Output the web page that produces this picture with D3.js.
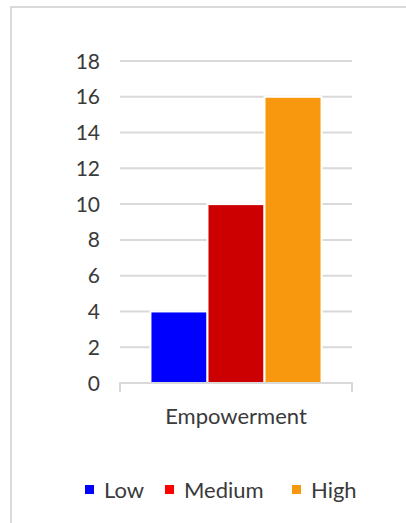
<!DOCTYPE html>
<html>
<head>
<meta charset="utf-8">
<script src="https://cdn.jsdelivr.net/npm/d3@7"></script>
<style>
  html, body { margin: 0; padding: 0; background: #fff; }
  svg { display: block; }
  text { font-family: "Lato", "Open Sans", sans-serif; fill: #3a3a3a; }
</style>
</head>
<body>
<script>
// Single category, three series
const categories = ["Empowerment"];
const seriesNames = ["Low", "Medium", "High"];
const seriesValues = [4, 10, 16];
const seriesColors = ["#0000ff", "#cc0000", "#f7980f"];
const legendSwatchColors = ["#0000ff", "#ff0000", "#f7980f"];
const yTicks = [0, 2, 4, 6, 8, 10, 12, 14, 16, 18];

const W = 406, H = 523;
const svg = d3.select("body").append("svg").attr("width", W).attr("height", H);

// chart frame
svg.append("path")
  .attr("d", `M11,${H} L11,7 L${W},7`)
  .attr("fill", "none")
  .attr("stroke", "#d9d9d9")
  .attr("stroke-width", 2);

const plot = { left: 120, right: 352, top: 61, bottom: 383 };

const y = d3.scaleLinear().domain([0, 18]).range([plot.bottom, plot.top]);
const x0 = d3.scaleBand().domain(categories).range([plot.left, plot.right]).paddingInner(0).paddingOuter(0.178);
const x1 = d3.scaleBand().domain(seriesNames).range([0, x0.bandwidth()]).padding(0.0);

// gridlines
svg.append("g").selectAll("line")
  .data(yTicks.filter(d => d > 0))
  .join("line")
  .attr("x1", plot.left).attr("x2", plot.right)
  .attr("y1", d => y(d)).attr("y2", d => y(d))
  .attr("stroke", "#d9d9d9").attr("stroke-width", 2);

// y tick labels
svg.append("g").selectAll("text")
  .data(yTicks)
  .join("text")
  .attr("x", 100)
  .attr("y", d => y(d))
  .attr("dy", "0.36em")
  .attr("text-anchor", "end")
  .style("font-size", "21px")
  .text(d => d);

// bars
const bars = svg.append("g");
categories.forEach(cat => {
  bars.selectAll(null)
    .data(seriesValues.map((v, i) => ({ name: seriesNames[i], value: v, color: seriesColors[i] })))
    .join("rect")
    .attr("x", d => x0(cat) + x1(d.name))
    .attr("y", d => y(d.value))
    .attr("width", x1.bandwidth())
    .attr("height", d => y(0) - y(d.value))
    .attr("fill", d => d.color)
    .attr("stroke", "#fff")
    .attr("stroke-width", 2);
});

// category axis
svg.append("path")
  .attr("d", `M${plot.left},392 L${plot.left},${plot.bottom} L${plot.right},${plot.bottom} L${plot.right},392`)
  .attr("fill", "none")
  .attr("stroke", "#d9d9d9")
  .attr("stroke-width", 2);

svg.append("g").selectAll("text")
  .data(categories)
  .join("text")
  .attr("x", d => x0(d) + x0.bandwidth() / 2)
  .attr("y", 416)
  .attr("dy", "0.36em")
  .attr("text-anchor", "middle")
  .style("font-size", "22px")
  .text(d => d);

// legend
const legendX = [85, 165, 292];
const legend = svg.append("g");
seriesNames.forEach((name, i) => {
  legend.append("rect")
    .attr("x", legendX[i]).attr("y", 485)
    .attr("width", 9).attr("height", 9)
    .attr("fill", legendSwatchColors[i]);
  legend.append("text")
    .attr("x", legendX[i] + 19).attr("y", 490)
    .attr("dy", "0.36em")
    .style("font-size", "22px")
    .text(name);
});
</script>
</body>
</html>
